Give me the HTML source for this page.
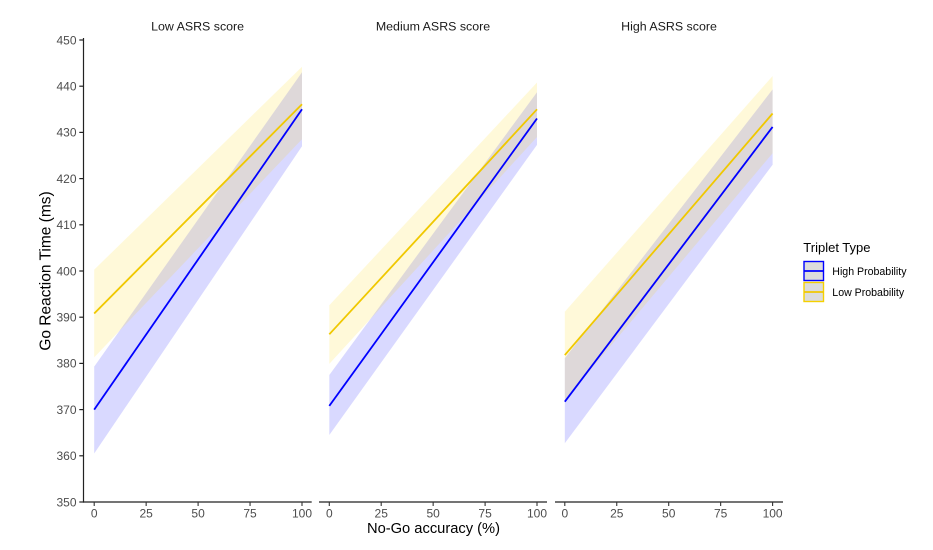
<!DOCTYPE html>
<html>
<head>
<meta charset="utf-8">
<style>
  html,body{margin:0;padding:0;background:#fff;}
  svg{display:block;font-family:"Liberation Sans",Arial,sans-serif;}
</style>
</head>
<body>
<svg width="933" height="550" viewBox="0 0 933 550" xmlns="http://www.w3.org/2000/svg">
  <rect x="0" y="0" width="933" height="550" fill="#ffffff"/>

  <!-- Panel 1 ribbons -->
  <polygon points="94.2,453.5 302,146.3 302,72.3 94.2,366.6" fill="#0000ff" fill-opacity="0.15"/>
  <polygon points="94.2,357.4 302,139.3 302,66.8 94.2,269.6" fill="#ffd700" fill-opacity="0.15"/>
  <!-- Panel 2 ribbons -->
  <polygon points="329.3,435.0 537,144.9 537,92.2 329.3,375.0" fill="#0000ff" fill-opacity="0.15"/>
  <polygon points="329.3,363.9 537,137.0 537,82.5 329.3,305.2" fill="#ffd700" fill-opacity="0.15"/>
  <!-- Panel 3 ribbons -->
  <polygon points="564.8,443.3 772.6,164.7 772.6,89.4 564.8,358.3" fill="#0000ff" fill-opacity="0.15"/>
  <polygon points="564.8,400.4 772.6,153.2 772.6,76.0 564.8,311.7" fill="#ffd700" fill-opacity="0.15"/>

  <!-- Lines -->
  <g stroke-width="1.8" fill="none" stroke-linecap="butt">
    <line x1="94.2" y1="313.5" x2="302" y2="104.2" stroke="#f0c800"/>
    <line x1="94.2" y1="409.6" x2="302" y2="109.3" stroke="#0000ff"/>
    <line x1="329.3" y1="334.3" x2="537" y2="109.3" stroke="#f0c800"/>
    <line x1="329.3" y1="405.9" x2="537" y2="118.5" stroke="#0000ff"/>
    <line x1="564.8" y1="355.1" x2="772.6" y2="113.5" stroke="#f0c800"/>
    <line x1="564.8" y1="401.7" x2="772.6" y2="126.9" stroke="#0000ff"/>
  </g>

  <!-- Y axis -->
  <g stroke="#222" stroke-width="1.2">
    <line x1="83.5" y1="38" x2="83.5" y2="502.6"/>
    <line x1="79.3" y1="40" x2="83.5" y2="40"/>
    <line x1="79.3" y1="86.2" x2="83.5" y2="86.2"/>
    <line x1="79.3" y1="132.4" x2="83.5" y2="132.4"/>
    <line x1="79.3" y1="178.6" x2="83.5" y2="178.6"/>
    <line x1="79.3" y1="224.8" x2="83.5" y2="224.8"/>
    <line x1="79.3" y1="271" x2="83.5" y2="271"/>
    <line x1="79.3" y1="317.2" x2="83.5" y2="317.2"/>
    <line x1="79.3" y1="363.4" x2="83.5" y2="363.4"/>
    <line x1="79.3" y1="409.6" x2="83.5" y2="409.6"/>
    <line x1="79.3" y1="455.8" x2="83.5" y2="455.8"/>
    <line x1="79.3" y1="502" x2="83.5" y2="502"/>
  </g>
  <g font-size="12" fill="#4d4d4d" text-anchor="end">
    <text x="76.5" y="44.3">450</text>
    <text x="76.5" y="90.5">440</text>
    <text x="76.5" y="136.7">430</text>
    <text x="76.5" y="182.9">420</text>
    <text x="76.5" y="229.1">410</text>
    <text x="76.5" y="275.3">400</text>
    <text x="76.5" y="321.5">390</text>
    <text x="76.5" y="367.7">380</text>
    <text x="76.5" y="413.9">370</text>
    <text x="76.5" y="460.1">360</text>
    <text x="76.5" y="506.3">350</text>
  </g>

  <!-- X axes -->
  <g stroke="#222" stroke-width="1.2">
    <line x1="83" y1="502" x2="311.7" y2="502"/>
    <line x1="319" y1="502" x2="547" y2="502"/>
    <line x1="555" y1="502" x2="783" y2="502"/>
  </g>
  <g stroke="#333" stroke-width="1.1">
    <line x1="94.2" y1="502" x2="94.2" y2="506"/>
    <line x1="146.15" y1="502" x2="146.15" y2="506"/>
    <line x1="198.1" y1="502" x2="198.1" y2="506"/>
    <line x1="250.05" y1="502" x2="250.05" y2="506"/>
    <line x1="302" y1="502" x2="302" y2="506"/>

    <line x1="329.3" y1="502" x2="329.3" y2="506"/>
    <line x1="381.2" y1="502" x2="381.2" y2="506"/>
    <line x1="433.15" y1="502" x2="433.15" y2="506"/>
    <line x1="485.1" y1="502" x2="485.1" y2="506"/>
    <line x1="537" y1="502" x2="537" y2="506"/>

    <line x1="564.8" y1="502" x2="564.8" y2="506"/>
    <line x1="616.75" y1="502" x2="616.75" y2="506"/>
    <line x1="668.7" y1="502" x2="668.7" y2="506"/>
    <line x1="720.65" y1="502" x2="720.65" y2="506"/>
    <line x1="772.6" y1="502" x2="772.6" y2="506"/>
  </g>
  <g font-size="12" fill="#4d4d4d" text-anchor="middle">
    <text x="94.2" y="517.5">0</text>
    <text x="146.15" y="517.5">25</text>
    <text x="198.1" y="517.5">50</text>
    <text x="250.05" y="517.5">75</text>
    <text x="302" y="517.5">100</text>

    <text x="329.3" y="517.5">0</text>
    <text x="381.2" y="517.5">25</text>
    <text x="433.15" y="517.5">50</text>
    <text x="485.1" y="517.5">75</text>
    <text x="537" y="517.5">100</text>

    <text x="564.8" y="517.5">0</text>
    <text x="616.75" y="517.5">25</text>
    <text x="668.7" y="517.5">50</text>
    <text x="720.65" y="517.5">75</text>
    <text x="772.6" y="517.5">100</text>
  </g>

  <!-- Strip titles -->
  <g font-size="12.4" fill="#1a1a1a" text-anchor="middle">
    <text x="197.6" y="30.5">Low ASRS score</text>
    <text x="433" y="30.5">Medium ASRS score</text>
    <text x="669" y="30.5">High ASRS score</text>
  </g>

  <!-- Axis titles -->
  <text x="433.5" y="533" font-size="14.7" fill="#000" text-anchor="middle">No-Go accuracy (%)</text>
  <text transform="translate(50.5,271) rotate(-90)" x="0" y="0" font-size="15.5" fill="#000" text-anchor="middle">Go Reaction Time (ms)</text>

  <!-- Legend -->
  <text x="803.3" y="252" font-size="13" fill="#000">Triplet Type</text>
  <rect x="804" y="261.5" width="19.5" height="19" fill="#dcdcdc" stroke="#0000ff" stroke-width="1.4"/>
  <line x1="804" y1="271" x2="823.5" y2="271" stroke="#0000ff" stroke-width="1.8"/>
  <rect x="804" y="282.5" width="19.5" height="19" fill="#dcdcdc" stroke="#f5d000" stroke-width="1.4"/>
  <line x1="804" y1="292" x2="823.5" y2="292" stroke="#f0c800" stroke-width="1.8"/>
  <g font-size="10.6" fill="#000">
    <text x="832.3" y="275">High Probability</text>
    <text x="832.3" y="296">Low Probability</text>
  </g>
</svg>
</body>
</html>
